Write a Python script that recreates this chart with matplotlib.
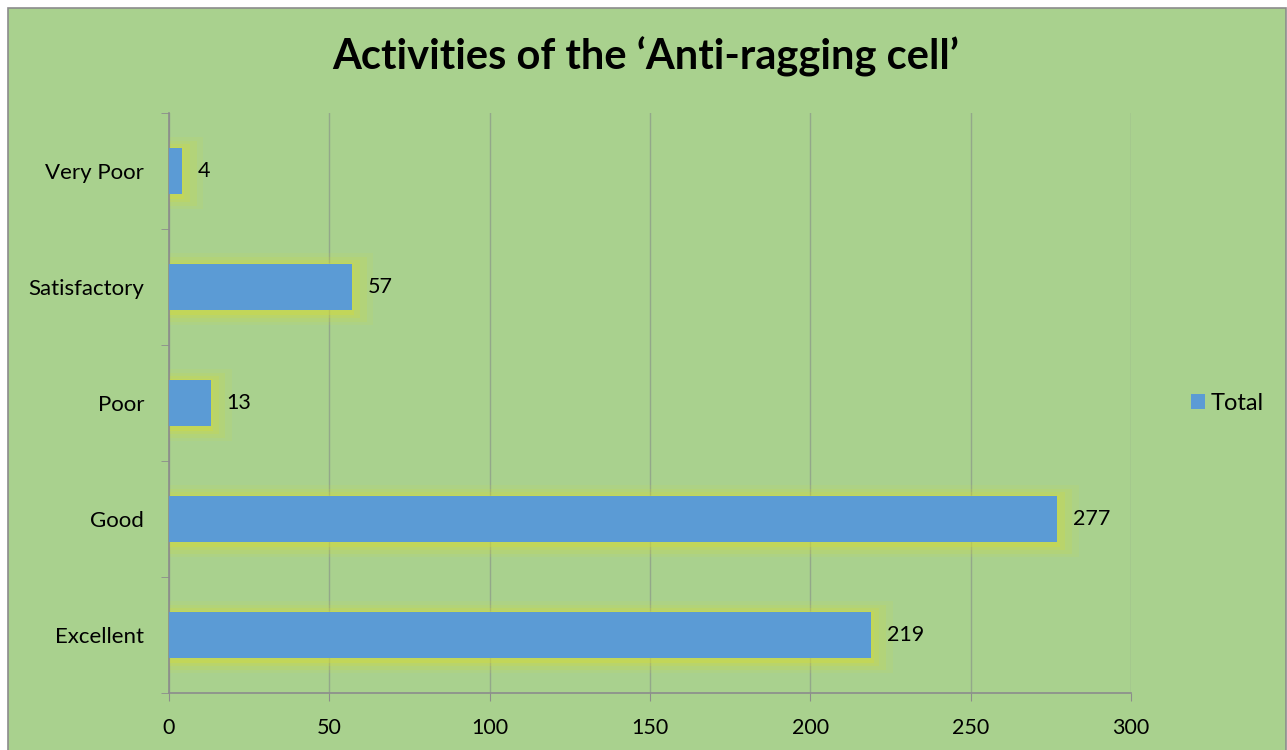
import matplotlib.pyplot as plt
from matplotlib.patches import Rectangle

# data
categories = ['Excellent', 'Good', 'Poor', 'Satisfactory', 'Very Poor']
totals = [219, 277, 13, 57, 4]
x_ticks = [0, 50, 100, 150, 200, 250, 300]

BG = '#A9D18E'
BAR = '#5B9BD5'
GLOW = '#D4DC3A'

plt.rcParams['font.family'] = ['Lato', 'DejaVu Sans']

fig = plt.figure(figsize=(12.87, 7.5), dpi=100)
fig.patch.set_facecolor('white')
fig.add_artist(Rectangle((8 / 1287, -0.01), 1 - 9 / 1287, 1 - 8 / 750 + 0.01,
                         transform=fig.transFigure, facecolor=BG,
                         edgecolor='#8C8C8C', linewidth=1.2, zorder=-10))

ax = fig.add_axes([169 / 1287, 57 / 750, 962 / 1287, 580 / 750])
ax.set_facecolor('none')

ypos = list(range(len(categories)))

# soft yellow glow round each bar
for grow, alpha in [(0.11, 0.1), (0.08, 0.15), (0.05, 0.22), (0.025, 0.35)]:
    ax.barh([y - 0.02 for y in ypos], [v + grow * 70 for v in totals],
            height=0.4 + 2 * grow, left=-1, color=GLOW, alpha=alpha,
            linewidth=0, zorder=2)

bars = ax.barh(ypos, totals, height=0.4, color=BAR, zorder=3, linewidth=0)
for y, v in zip(ypos, totals):
    ax.text(v + 5, y, str(v), va='center', ha='left', fontsize=15.5, zorder=4)

ax.set_xlim(0, 300)
ax.set_ylim(-0.5, len(categories) - 0.5)
ax.set_xticks(x_ticks)
ax.set_xticklabels([str(t) for t in x_ticks], fontsize=15.5)
ax.set_yticks(ypos)
ax.set_yticklabels(categories, fontsize=16)
ax.set_yticks([y + 0.5 for y in range(-1, len(categories))], minor=True)
ax.tick_params(axis='y', which='major', length=0, pad=18)
ax.tick_params(axis='y', which='minor', length=6, color='#8C8C8C', direction='out')
ax.tick_params(axis='x', length=6, color='#8C8C8C', direction='out', pad=12)
ax.grid(axis='x', color='#93A88A', linewidth=1, zorder=0)
ax.set_axisbelow(True)
for side in ['top', 'right']:
    ax.spines[side].set_visible(False)
for side in ['left', 'bottom']:
    ax.spines[side].set_color('#8C8C8C')
    ax.spines[side].set_linewidth(1.2)

fig.text(646 / 1287, 1 - 57 / 750, 'Activities of the \u2018Anti-ragging cell\u2019',
         ha='center', va='center', fontsize=30, fontweight='bold')

leg = ax.legend([bars], ['Total'], loc='center left', bbox_to_anchor=(1.04, 0.5),
                frameon=False, fontsize=17, handlelength=0.6, handleheight=0.6,
                handletextpad=0.25)

fig.savefig('out.png', dpi=100, facecolor='white')
